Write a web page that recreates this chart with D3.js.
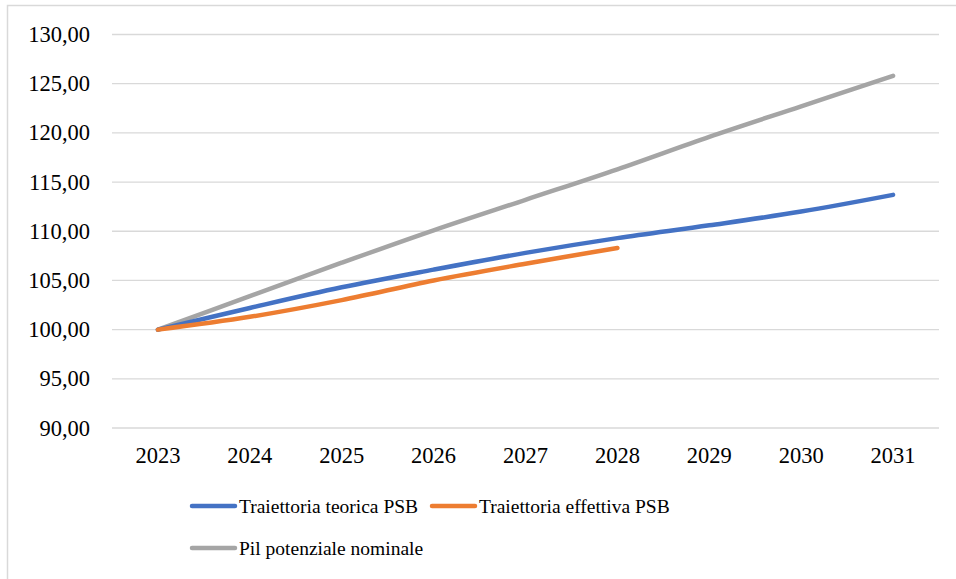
<!DOCTYPE html>
<html lang="it">
<head>
    <meta charset="UTF-8">
    <title>Traiettoria PSB</title>
    <script src="https://d3js.org/d3.v7.min.js"></script>
    <style>
        body { margin: 0; background: #fff; }
        .grid line { stroke: #d9d9d9; stroke-width: 1.3px; }
        .tick-label { font-size: 22.5px; fill: #000; }
        .legend text { font-size: 19.5px; fill: #000; }
        .series { fill: none; stroke-width: 4.5px; stroke-linecap: round; stroke-linejoin: round; }
    </style>
</head>
<body>
<svg id="chart" width="956" height="579"></svg>
<script>
    var years = ["2023", "2024", "2025", "2026", "2027", "2028", "2029", "2030", "2031"];
    var teorica = [100, 102.2, 104.3, 106.1, 107.8, 109.3, 110.6, 112.0, 113.7];
    var effettiva = [100, 101.3, 103.0, 105.0, 106.7, 108.3];
    var pil = [100, 103.4, 106.8, 110.1, 113.2, 116.3, 119.6, 122.7, 125.8];
    var yTicks = [90, 95, 100, 105, 110, 115, 120, 125, 130];

    var series = [
        { name: "Pil potenziale nominale", values: pil, color: "#a5a5a5" },
        { name: "Traiettoria teorica PSB", values: teorica, color: "#4472c4" },
        { name: "Traiettoria effettiva PSB", values: effettiva, color: "#ed7d31" }
    ];

    var serif = "'Liberation Serif', 'Times New Roman', Tinos, 'DejaVu Serif', serif";

    var svg = d3.select("#chart");

    // chart area border (right and bottom edges fall outside the picture)
    svg.append("rect")
        .attr("x", 7.5).attr("y", 5.5)
        .attr("width", 970).attr("height", 600)
        .attr("fill", "none")
        .attr("stroke", "#d9d9d9")
        .attr("stroke-width", 1.5);

    var x = d3.scaleBand().domain(years).range([112, 939]);
    var y = d3.scaleLinear().domain([90, 130]).range([428, 34.5]);

    var grid = svg.append("g").attr("class", "grid");
    grid.selectAll("line")
        .data(yTicks)
        .join("line")
        .attr("x1", 112).attr("x2", 939)
        .attr("y1", d => y(d)).attr("y2", d => y(d));

    var fmt = d3.format(".2f");
    svg.append("g").selectAll("text")
        .data(yTicks)
        .join("text")
        .attr("class", "tick-label")
        .style("font-family", serif)
        .attr("x", 90)
        .attr("y", d => y(d) + 7.5)
        .attr("text-anchor", "end")
        .text(d => fmt(d).replace(".", ","));

    svg.append("g").selectAll("text")
        .data(years)
        .join("text")
        .attr("class", "tick-label")
        .style("font-family", serif)
        .attr("x", d => x(d) + x.bandwidth() / 2)
        .attr("y", 463)
        .attr("text-anchor", "middle")
        .text(d => d);

    var line = d3.line()
        .x((d, i) => x(years[i]) + x.bandwidth() / 2)
        .y(d => y(d))
        .curve(d3.curveCatmullRom.alpha(0.5));

    svg.append("g").selectAll("path")
        .data(series)
        .join("path")
        .attr("class", "series")
        .attr("stroke", d => d.color)
        .attr("d", d => line(d.values));

    // legend
    var legendItems = [
        { s: series[1], x: 192, y: 506 },
        { s: series[2], x: 432, y: 506 },
        { s: series[0], x: 192, y: 548 }
    ];
    var legend = svg.append("g").attr("class", "legend");
    var item = legend.selectAll("g")
        .data(legendItems)
        .join("g")
        .attr("transform", d => "translate(" + d.x + "," + d.y + ")");
    item.append("line")
        .attr("x1", 0).attr("x2", 43)
        .attr("stroke", d => d.s.color)
        .attr("stroke-width", 4.5)
        .attr("stroke-linecap", "round");
    item.append("text")
        .style("font-family", serif)
        .attr("x", 47)
        .attr("y", 7)
        .text(d => d.s.name);
</script>
</body>
</html>
